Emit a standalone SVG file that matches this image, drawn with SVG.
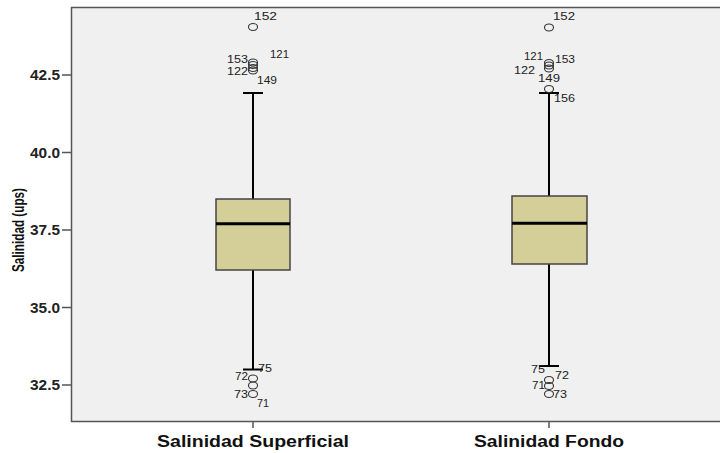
<svg xmlns="http://www.w3.org/2000/svg" width="720" height="453" viewBox="0 0 720 453">
<style>
.tick{font-family:"Liberation Sans",Arial,sans-serif;font-size:14px;font-weight:bold;fill:#222;text-anchor:end}
.cat{font-family:"Liberation Sans",Arial,sans-serif;font-size:16px;font-weight:bold;fill:#111}
.lab{font-family:"Liberation Sans",Arial,sans-serif;font-size:11px;fill:#222}
.title{font-family:"Liberation Sans",Arial,sans-serif;font-size:13px;font-weight:bold;fill:#111}
.ax{stroke:#555;stroke-width:1.5;fill:none}
.box{fill:#d4cf99;stroke:#444;stroke-width:1.5}
.med{stroke:#000;stroke-width:3}
.wh{stroke:#000;stroke-width:2;fill:none}
.out{fill:none;stroke:#333;stroke-width:1.1}
</style>
<rect width="720" height="453" fill="#fff"/>
<rect x="71.5" y="7" width="649" height="414" fill="#f0f0f0"/>
<g id="axes">
<path class="ax" d="M720 7.5H71.5V421.5H720"/>
<path class="ax" d="M62 75H71.5M62 152.5H71.5M62 230H71.5M62 307.5H71.5M62 385H71.5M253 421.5V428M549 421.5V428"/>
<text class="tick" x="60" y="80" textLength="30" lengthAdjust="spacingAndGlyphs">42.5</text>
<text class="tick" x="60" y="157.5" textLength="30" lengthAdjust="spacingAndGlyphs">40.0</text>
<text class="tick" x="60" y="235" textLength="30" lengthAdjust="spacingAndGlyphs">37.5</text>
<text class="tick" x="60" y="312.5" textLength="30" lengthAdjust="spacingAndGlyphs">35.0</text>
<text class="tick" x="60" y="390" textLength="30" lengthAdjust="spacingAndGlyphs">32.5</text>
<text class="title" transform="translate(24,272) rotate(-90) scale(1,1.3)" textLength="84" lengthAdjust="spacingAndGlyphs">Salinidad (ups)</text>
<text class="cat" x="157" y="447" textLength="192" lengthAdjust="spacingAndGlyphs">Salinidad Superficial</text>
<text class="cat" x="474" y="447" textLength="150" lengthAdjust="spacingAndGlyphs">Salinidad Fondo</text>
</g>
<g id="box-superficial">
<path class="wh" d="M253 93V199M253 270V369.5M243 93H263M243 369.5H263"/>
<rect class="box" x="216" y="199" width="74" height="71"/>
<line class="med" x1="216" y1="223.7" x2="290" y2="223.7"/>
<ellipse class="out" cx="253" cy="27" rx="4.5" ry="3.5"/>
<ellipse class="out" cx="253" cy="62.5" rx="4.5" ry="3.5"/>
<ellipse class="out" cx="253" cy="65" rx="4.5" ry="3.5"/>
<ellipse class="out" cx="253" cy="68" rx="4.5" ry="3.5"/>
<ellipse class="out" cx="253" cy="70.5" rx="4.5" ry="3.5"/>
<ellipse class="out" cx="253" cy="378.5" rx="4.5" ry="3.5"/>
<ellipse class="out" cx="253" cy="385.5" rx="4.5" ry="3.5"/>
<ellipse class="out" cx="253" cy="394" rx="4.5" ry="3.5"/>
<text class="lab" x="254" y="20" textLength="23" lengthAdjust="spacingAndGlyphs">152</text>
<text class="lab" x="227" y="63" textLength="21" lengthAdjust="spacingAndGlyphs">153</text>
<text class="lab" x="270" y="58" textLength="19" lengthAdjust="spacingAndGlyphs">121</text>
<text class="lab" x="227" y="75" textLength="21" lengthAdjust="spacingAndGlyphs">122</text>
<text class="lab" x="257" y="84" textLength="20" lengthAdjust="spacingAndGlyphs">149</text>
<text class="lab" x="258" y="372" textLength="14" lengthAdjust="spacingAndGlyphs">75</text>
<text class="lab" x="235" y="380" textLength="13" lengthAdjust="spacingAndGlyphs">72</text>
<text class="lab" x="234" y="398" textLength="14" lengthAdjust="spacingAndGlyphs">73</text>
<text class="lab" x="257" y="407" textLength="12" lengthAdjust="spacingAndGlyphs">71</text>
</g>
<g id="box-fondo">
<path class="wh" d="M549 93V196M549 264V366M539 93H559M539 366H559"/>
<rect class="box" x="512" y="196" width="75" height="68"/>
<line class="med" x1="512" y1="223.3" x2="587" y2="223.3"/>
<ellipse class="out" cx="549" cy="27.5" rx="4.5" ry="3.5"/>
<ellipse class="out" cx="549" cy="63" rx="4.5" ry="3.5"/>
<ellipse class="out" cx="549" cy="65.5" rx="4.5" ry="3.5"/>
<ellipse class="out" cx="549" cy="68.5" rx="4.5" ry="3.5"/>
<ellipse class="out" cx="549" cy="89" rx="4.5" ry="3.5"/>
<ellipse class="out" cx="549" cy="380" rx="4.5" ry="3.5"/>
<ellipse class="out" cx="549" cy="386" rx="4.5" ry="3.5"/>
<ellipse class="out" cx="549" cy="394" rx="4.5" ry="3.5"/>
<text class="lab" x="553" y="20" textLength="22" lengthAdjust="spacingAndGlyphs">152</text>
<text class="lab" x="524" y="60" textLength="19" lengthAdjust="spacingAndGlyphs">121</text>
<text class="lab" x="555" y="63" textLength="20" lengthAdjust="spacingAndGlyphs">153</text>
<text class="lab" x="514" y="74" textLength="21" lengthAdjust="spacingAndGlyphs">122</text>
<text class="lab" x="538" y="82" textLength="22" lengthAdjust="spacingAndGlyphs">149</text>
<text class="lab" x="554" y="102" textLength="21" lengthAdjust="spacingAndGlyphs">156</text>
<text class="lab" x="531" y="373" textLength="14" lengthAdjust="spacingAndGlyphs">75</text>
<text class="lab" x="555" y="379" textLength="14" lengthAdjust="spacingAndGlyphs">72</text>
<text class="lab" x="532" y="389" textLength="13" lengthAdjust="spacingAndGlyphs">71</text>
<text class="lab" x="553" y="398" textLength="14" lengthAdjust="spacingAndGlyphs">73</text>
</g>
</svg>
